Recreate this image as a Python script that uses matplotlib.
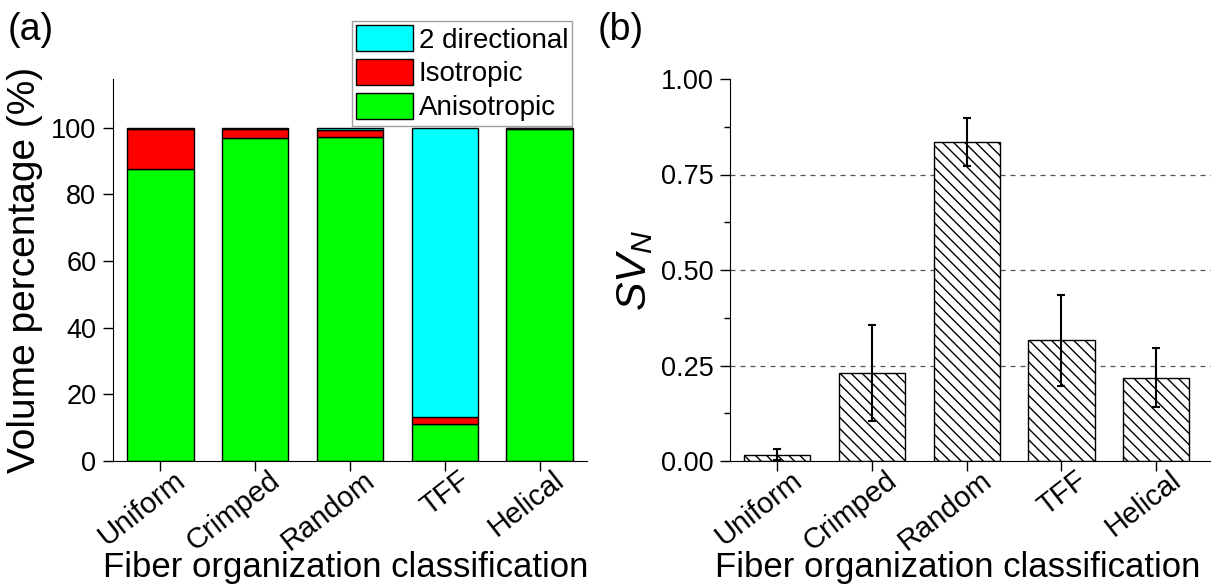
import numpy as np
import matplotlib
matplotlib.use('Agg')
import matplotlib.pyplot as plt
import matplotlib.transforms as mtrans

plt.rcParams['font.family'] = ['Liberation Sans', 'DejaVu Sans']
plt.rcParams['mathtext.fontset'] = 'custom'
plt.rcParams['mathtext.it'] = 'Liberation Sans:italic'
plt.rcParams['mathtext.rm'] = 'Liberation Sans'
plt.rcParams['hatch.linewidth'] = 1.0

categories = ['Uniform', 'Crimped', 'Random', 'TFF', 'Helical']

# (a) volume percentage of each fiber type
anisotropic = [87.6, 96.9, 97.1, 11.0, 99.6]
isotropic = [11.9, 2.7, 2.2, 2.2, 0.2]
two_directional = [0.5, 0.4, 0.7, 86.8, 0.2]

# (b) normalized SV with standard deviation
sv_n = [0.017, 0.230, 0.836, 0.316, 0.218]
sv_err = [0.015, 0.125, 0.063, 0.119, 0.077]

W, H = 1211, 587
fig = plt.figure(figsize=(W / 100, H / 100), dpi=100)

def px_axes(left, top, right, bottom):
    return fig.add_axes([left / W, 1 - bottom / H, (right - left) / W, (bottom - top) / H])

x = np.arange(len(categories))
tick_fs = 19.5
label_fs = 25

def style_axes(ax, label_x):
    ax.spines['top'].set_visible(False)
    ax.spines['right'].set_visible(False)
    ax.tick_params(axis='both', direction='out', length=7, width=1, labelsize=tick_fs, pad=5)
    ax.tick_params(axis='y', which='minor', direction='out', length=4, width=1)
    ax.set_xticks(x)
    ax.set_xticklabels(categories, rotation=38, ha='right', va='top', rotation_mode='anchor',
                       fontsize=21)
    offset = mtrans.ScaledTranslation(13 / 100, 12 / 100, fig.dpi_scale_trans)
    for lab in ax.get_xticklabels():
        lab.set_transform(lab.get_transform() + offset)
    ax.set_xlabel('Fiber organization classification', fontsize=label_fs)
    ax.xaxis.set_label_coords(label_x, (461 - 568) / 382)
    ax.xaxis.label.set_va('center')

# ---- panel (a): stacked bars
ax1 = px_axes(113, 79, 587, 461)
b_an = ax1.bar(x, anisotropic, width=0.7, color='#00ff00', edgecolor='black', linewidth=1,
               label='Anisotropic')
bottom2 = np.array(anisotropic)
b_iso = ax1.bar(x, isotropic, width=0.7, bottom=bottom2, color='#ff0000', edgecolor='black',
                linewidth=1, label='Isotropic')
bottom3 = bottom2 + np.array(isotropic)
b_two = ax1.bar(x, two_directional, width=0.7, bottom=bottom3, color='#00ffff',
                edgecolor='black', linewidth=1, label='2 directional')
ax1.set_xlim(-0.5, 4.5)
ax1.set_ylim(0, 114.6)
ax1.set_yticks([0, 20, 40, 60, 80, 100])
style_axes(ax1, 0.49)
ax1.set_ylabel('Volume percentage (%)', fontsize=28, labelpad=6)

fig.legend(handles=[b_two, b_iso, b_an], labels=['2 directional', 'Isotropic', 'Anisotropic'],
           loc='upper left', bbox_to_anchor=(352 / W, 1 - 21 / H), fontsize=20,
           handlelength=2.05, handleheight=1.05, labelspacing=0.2, handletextpad=0.2,
           borderpad=0.15, borderaxespad=0, fancybox=False, framealpha=1,
           edgecolor='#a0a0a0')

# ---- panel (b): hatched bars with error bars
ax2 = px_axes(730, 79, 1211, 461)
for yl in [0.25, 0.5, 0.75]:
    ax2.axhline(yl, color='#555555', linestyle=(0, (4, 4)), linewidth=0.9, zorder=0)
ax2.bar(x, sv_n, width=0.7, color='white', edgecolor='black', linewidth=1, hatch='\\\\\\',
        zorder=2)
ax2.errorbar(x, sv_n, yerr=sv_err, fmt='none', ecolor='black', elinewidth=1.5,
             capsize=3, capthick=1.5, zorder=3)
ax2.set_xlim(-0.5, -0.5 + (1211 - 730) / 94.7)
ax2.set_ylim(0, 1.0)
ax2.set_yticks([0, 0.25, 0.5, 0.75, 1.0])
ax2.set_yticklabels(['0.00', '0.25', '0.50', '0.75', '1.00'])
ax2.set_yticks([0.125, 0.375, 0.625, 0.875], minor=True)
style_axes(ax2, 0.474)
ax2.set_ylabel('$SV_N$', fontsize=31, labelpad=4)

fig.text(8 / W, 1 - 30 / H, '(a)', fontsize=27, va='center', ha='left')
fig.text(598 / W, 1 - 30 / H, '(b)', fontsize=27, va='center', ha='left')

fig.savefig('out.png', dpi=100)
